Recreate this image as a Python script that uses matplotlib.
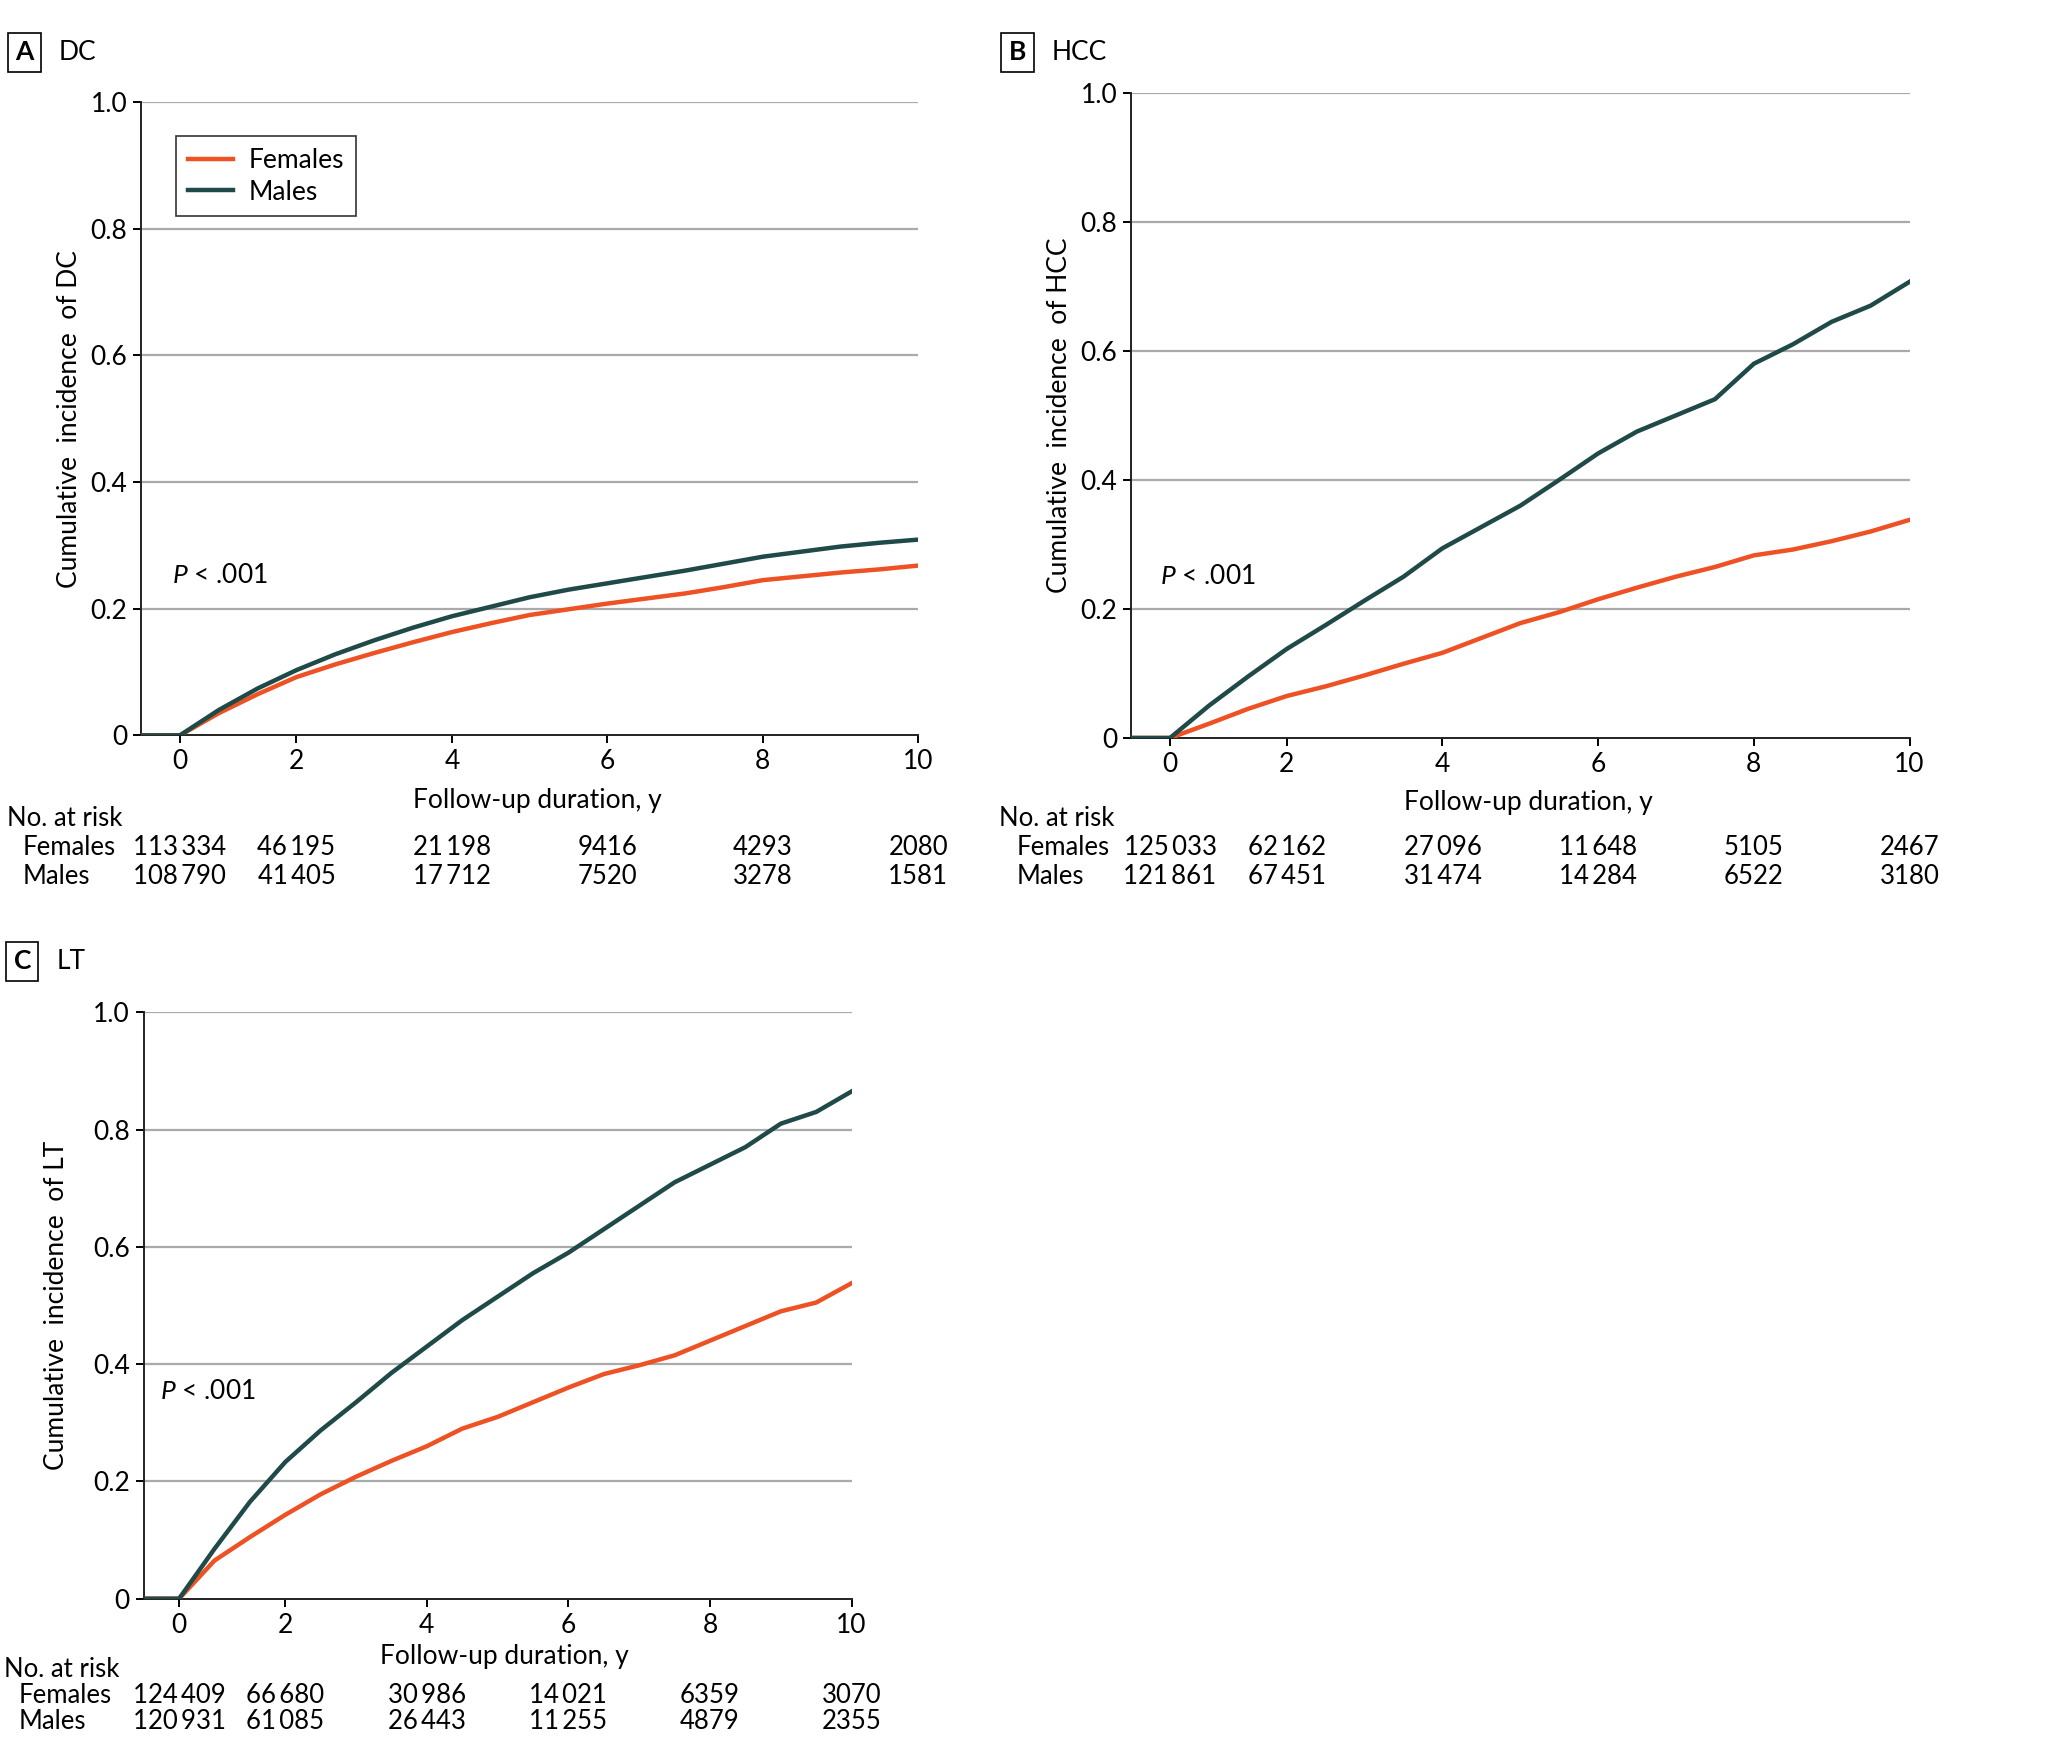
import numpy as np
import matplotlib
matplotlib.use("Agg")
import matplotlib.pyplot as plt
from matplotlib.transforms import blended_transform_factory

plt.rcParams['font.family'] = ['Lato', 'DejaVu Sans']
plt.rcParams['mathtext.fontset'] = 'custom'
plt.rcParams['mathtext.it'] = 'Lato:italic'
plt.rcParams['mathtext.rm'] = 'Lato'

W, H = 2048, 1760
S = 2048 / 1568  # layout measured on a 1568 px wide copy
FEM = '#EE5124'
MAL = '#1F4A48'
GRID = '#AAAAAA'
FS = 19
FS_NUM = 18.5

# time points (years)
t = [0, 0.5, 1, 1.5, 2, 2.5, 3, 3.5, 4, 4.5, 5, 5.5, 6, 6.5, 7, 7.5, 8, 8.5, 9, 9.5, 10]

dc_fem = [0, 0, 0.035, 0.065, 0.092, 0.112, 0.13, 0.147, 0.163, 0.177, 0.19, 0.199, 0.208, 0.216, 0.224, 0.234, 0.245, 0.251, 0.257, 0.262, 0.268]
dc_mal = [0, 0, 0.04, 0.074, 0.103, 0.128, 0.15, 0.17, 0.188, 0.203, 0.218, 0.23, 0.24, 0.25, 0.26, 0.271, 0.282, 0.29, 0.298, 0.304, 0.309]

hcc_fem = [0, 0, 0.022, 0.045, 0.065, 0.08, 0.097, 0.115, 0.132, 0.155, 0.178, 0.195, 0.215, 0.233, 0.25, 0.265, 0.283, 0.292, 0.305, 0.32, 0.338]
hcc_mal = [0, 0, 0.05, 0.095, 0.138, 0.175, 0.213, 0.25, 0.294, 0.327, 0.36, 0.40, 0.441, 0.475, 0.50, 0.525, 0.58, 0.61, 0.645, 0.67, 0.707]

lt_fem = [0, 0, 0.065, 0.105, 0.143, 0.178, 0.208, 0.235, 0.26, 0.29, 0.31, 0.335, 0.36, 0.383, 0.398, 0.415, 0.44, 0.465, 0.49, 0.505, 0.538]
lt_mal = [0, 0, 0.085, 0.165, 0.233, 0.287, 0.335, 0.385, 0.43, 0.475, 0.515, 0.555, 0.59, 0.63, 0.67, 0.71, 0.74, 0.77, 0.81, 0.83, 0.865]

tick_pos = [0.5, 2, 4, 6, 8, 10]
tick_lab = ['0', '2', '4', '6', '8', '10']

dc_risk_f = ['113\u2009334', '46\u2009195', '21\u2009198', '9416', '4293', '2080']
dc_risk_m = ['108\u2009790', '41\u2009405', '17\u2009712', '7520', '3278', '1581']
hcc_risk_f = ['125\u2009033', '62\u2009162', '27\u2009096', '11\u2009648', '5105', '2467']
hcc_risk_m = ['121\u2009861', '67\u2009451', '31\u2009474', '14\u2009284', '6522', '3180']
lt_risk_f = ['124\u2009409', '66\u2009680', '30\u2009986', '14\u2009021', '6359', '3070']
lt_risk_m = ['120\u2009931', '61\u2009085', '26\u2009443', '11\u2009255', '4879', '2355']


def fx(x):
    return x * S / W


def fy(y):
    return 1 - y * S / H


fig = plt.figure(figsize=(W / 100, H / 100), dpi=100)


def panel(box, fem, mal, name, letter, lbl_xy, ylab_x, xlab_top, ptxt, risk_f, risk_m, rows_y, rows_x, legend=False):
    x0, y0, x1, y1 = box
    ax = fig.add_axes([fx(x0), fy(y1), fx(x1) - fx(x0), fy(y0) - fy(y1)])
    ax.plot(t, fem, color=FEM, lw=3.2, label='Females', zorder=3)
    ax.plot(t, mal, color=MAL, lw=3.2, label='Males', zorder=4)
    ax.set_xlim(0, 10)
    ax.set_ylim(0, 1.0)
    ax.set_yticks([0, 0.2, 0.4, 0.6, 0.8, 1.0])
    ax.set_yticklabels(['0', '0.2', '0.4', '0.6', '0.8', '1.0'])
    ax.set_xticks(tick_pos)
    ax.set_xticklabels(tick_lab)
    for y in [0.2, 0.4, 0.6, 0.8, 1.0]:
        ax.axhline(y, color=GRID, lw=1.6, zorder=1)
    for s in ['top', 'right']:
        ax.spines[s].set_visible(False)
    for s in ['left', 'bottom']:
        ax.spines[s].set_linewidth(1.4)
        ax.spines[s].set_color('#222222')
    ax.tick_params(direction='out', length=6, width=1.4, labelsize=FS, pad=4)
    ax.set_ylabel('Cumulative  incidence  of ' + name, fontsize=FS)
    ax.yaxis.set_label_coords((ylab_x - x0) / (x1 - x0), 0.5)
    ax.set_xlabel('Follow-up duration, y', fontsize=FS)
    ax.xaxis.set_label_coords(0.51, (y1 - xlab_top) / (y1 - y0))
    ax.text(ptxt[0], ptxt[1], r'$P$ < .001', fontsize=FS, ha='left', va='center')
    if legend:
        leg = ax.legend(loc='upper left', bbox_to_anchor=(0.045, 0.946), borderaxespad=0,
                        fontsize=FS, frameon=True, fancybox=False, handlelength=1.7,
                        handletextpad=0.6, labelspacing=0.25, borderpad=0.45)
        leg.get_frame().set_edgecolor('black')
        leg.get_frame().set_linewidth(1.2)
    # panel letter and title
    fig.text(fx(lbl_xy[0]), fy(lbl_xy[1]), letter, fontsize=FS, fontweight='bold',
             ha='center', va='center',
             bbox=dict(boxstyle='square,pad=0.28', fc='white', ec='black', lw=1.2))
    fig.text(fx(lbl_xy[0] + 26), fy(lbl_xy[1]), name, fontsize=FS, ha='left', va='center')
    # risk table
    tr = blended_transform_factory(ax.transData, fig.transFigure)
    fig.text(fx(rows_x[0]), fy(rows_y[0]), 'No. at risk', fontsize=FS_NUM, ha='left', va='center')
    fig.text(fx(rows_x[1]), fy(rows_y[1]), 'Females', fontsize=FS_NUM, ha='left', va='center')
    fig.text(fx(rows_x[1]), fy(rows_y[2]), 'Males', fontsize=FS_NUM, ha='left', va='center')
    for xp, f, m in zip(tick_pos, risk_f, risk_m):
        ax.text(xp, fy(rows_y[1]), f, transform=tr, fontsize=FS_NUM, ha='center', va='center')
        ax.text(xp, fy(rows_y[2]), m, transform=tr, fontsize=FS_NUM, ha='center', va='center')
    return ax


panel((108, 78, 703, 563), dc_fem, dc_mal, 'DC', 'A', (19, 40), 63, 603,
      (0.40, 0.252), dc_risk_f, dc_risk_m, (627, 649, 671), (5, 17), legend=True)
panel((866, 71, 1462, 565), hcc_fem, hcc_mal, 'HCC', 'B', (779, 40), 821, 605,
      (0.37, 0.251), hcc_risk_f, hcc_risk_m, (627, 649, 671), (765, 778))
panel((110, 775, 652, 1224), lt_fem, lt_mal, 'LT', 'C', (17, 736), 53, 1259,
      (0.23, 0.354), lt_risk_f, lt_risk_m, (1278, 1298, 1318), (3, 14))

fig.savefig('out.png', dpi=100, facecolor='white')
